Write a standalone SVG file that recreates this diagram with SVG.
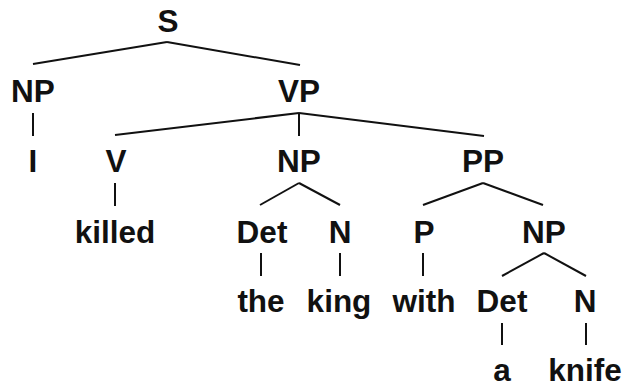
<svg xmlns="http://www.w3.org/2000/svg" width="623" height="384" viewBox="0 0 623 384">
  <style>
    .lbl { font-family: "Liberation Sans", Arial, sans-serif; font-weight: bold; font-size: 31.5px; fill: #111; text-anchor: middle; }
    .edge { stroke: #111; stroke-width: 2; fill: none; stroke-linecap: butt; }
  </style>
  <rect width="623" height="384" fill="#fff"/>

  <!-- tree branches -->
  <g id="connectors">
    <line class="edge" x1="167" y1="42" x2="33" y2="64"/>
    <line class="edge" x1="167" y1="42" x2="300" y2="65"/>
    <line class="edge" x1="33" y1="113" x2="33" y2="136"/>
    <line class="edge" x1="299" y1="113" x2="115" y2="135"/>
    <line class="edge" x1="299" y1="113" x2="299" y2="136"/>
    <line class="edge" x1="299" y1="113" x2="484" y2="136"/>
    <line class="edge" x1="115" y1="183" x2="115" y2="206"/>
    <line class="edge" x1="299" y1="183" x2="260" y2="205"/>
    <line class="edge" x1="299" y1="183" x2="340" y2="205"/>
    <line class="edge" x1="483" y1="183" x2="423" y2="205"/>
    <line class="edge" x1="483" y1="183" x2="543" y2="205"/>
    <line class="edge" x1="261" y1="253" x2="261" y2="276"/>
    <line class="edge" x1="340" y1="253" x2="340" y2="276"/>
    <line class="edge" x1="423" y1="253" x2="423" y2="276"/>
    <line class="edge" x1="544" y1="253" x2="502" y2="276"/>
    <line class="edge" x1="544" y1="253" x2="586" y2="276"/>
    <line class="edge" x1="502" y1="323" x2="502" y2="345"/>
    <line class="edge" x1="586" y1="323" x2="586" y2="345"/>
  </g>

  <g id="n-s"><text class="lbl" x="168" y="32">S</text></g>
  <g id="n-np1"><text class="lbl" x="33" y="102">NP</text></g>
  <g id="n-vp"><text class="lbl" x="299" y="102">VP</text></g>
  <g id="n-i"><text class="lbl" x="33" y="172">I</text></g>
  <g id="n-v"><text class="lbl" x="116" y="172">V</text></g>
  <g id="n-np2"><text class="lbl" x="299" y="172">NP</text></g>
  <g id="n-pp"><text class="lbl" x="483" y="172">PP</text></g>
  <g id="n-killed"><text class="lbl" x="115" y="243">killed</text></g>
  <g id="n-det1"><text class="lbl" x="262" y="243">Det</text></g>
  <g id="n-n1"><text class="lbl" x="340" y="243">N</text></g>
  <g id="n-p"><text class="lbl" x="424" y="243">P</text></g>
  <g id="n-np3"><text class="lbl" x="544" y="243">NP</text></g>
  <g id="n-the"><text class="lbl" x="261" y="312">the</text></g>
  <g id="n-king"><text class="lbl" x="339" y="312">king</text></g>
  <g id="n-with"><text class="lbl" x="424" y="312">with</text></g>
  <g id="n-det2"><text class="lbl" x="502" y="312">Det</text></g>
  <g id="n-n2"><text class="lbl" x="585" y="312">N</text></g>
  <g id="n-a"><text class="lbl" x="502" y="381">a</text></g>
  <g id="n-knife"><text class="lbl" x="585" y="381">knife</text></g>
</svg>
